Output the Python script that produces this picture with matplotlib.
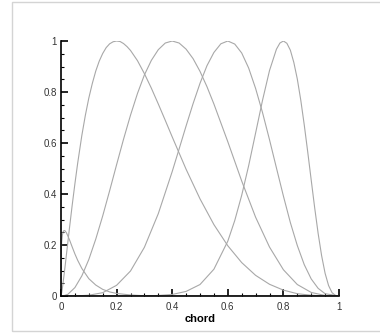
import matplotlib
matplotlib.use("Agg")
import matplotlib.pyplot as plt
from matplotlib.ticker import MultipleLocator
from matplotlib.patches import Rectangle

# curva 1: bump pequeño en el borde de ataque
x_le = [0, 0.001, 0.0025, 0.005, 0.0075, 0.01, 0.0125, 0.015, 0.02, 0.03, 0.04,
        0.05, 0.06, 0.075, 0.1, 0.125, 0.15, 0.175, 0.2, 0.25, 0.3, 0.4, 0.5, 1.0]
y_le = [0, 0.174, 0.212, 0.239, 0.251, 0.256, 0.257, 0.255, 0.247, 0.222, 0.193,
        0.165, 0.140, 0.108, 0.068, 0.043, 0.026, 0.016, 0.010, 0.004, 0.001, 0.0, 0.0, 0.0]

# curva 2: maximo en 0.2
x_02 = [0, 0.0025, 0.005, 0.01, 0.015, 0.02, 0.025, 0.03, 0.035, 0.04, 0.05, 0.06, 0.075,
        0.0875, 0.1, 0.1125, 0.125, 0.1375, 0.15, 0.1625, 0.175, 0.1875, 0.2, 0.2125,
        0.225, 0.2375, 0.25, 0.275, 0.3, 0.325, 0.35, 0.375, 0.4, 0.45, 0.5, 0.55,
        0.6, 0.65, 0.7, 0.75, 0.8, 0.85, 0.9, 0.95, 1.0]
y_02 = [0, 0.013, 0.031, 0.074, 0.119, 0.167, 0.214, 0.262, 0.308, 0.354, 0.440, 0.521, 0.630,
        0.708, 0.776, 0.833, 0.882, 0.921, 0.951, 0.974, 0.989, 0.997, 1.0, 0.998,
        0.990, 0.978, 0.963, 0.923, 0.872, 0.815, 0.753, 0.689, 0.624, 0.497, 0.381, 0.280,
        0.197, 0.131, 0.081, 0.046, 0.023, 0.009, 0.003, 0.0003, 0]

# curva 3: maximo en 0.4
x_04 = [0, 0.01, 0.025, 0.05, 0.075, 0.1, 0.125, 0.15, 0.175, 0.2, 0.225, 0.25, 0.275,
        0.3, 0.325, 0.35, 0.375, 0.4, 0.425, 0.45, 0.475, 0.5, 0.525, 0.55, 0.6, 0.65,
        0.7, 0.75, 0.8, 0.85, 0.9, 0.95, 1.0]
y_04 = [0, 0.001, 0.007, 0.033, 0.079, 0.143, 0.223, 0.314, 0.413, 0.515, 0.615, 0.709, 0.794,
        0.867, 0.924, 0.966, 0.992, 1.0, 0.992, 0.968, 0.931, 0.881, 0.821, 0.753, 0.605, 0.451,
        0.309, 0.192, 0.103, 0.045, 0.014, 0.002, 0]

# curva 4: maximo en 0.6
x_06 = [0, 0.05, 0.1, 0.15, 0.2, 0.25, 0.3, 0.35, 0.4, 0.425, 0.45, 0.475, 0.5, 0.525,
        0.55, 0.575, 0.6, 0.625, 0.65, 0.675, 0.7, 0.725, 0.75, 0.775, 0.8, 0.825,
        0.85, 0.875, 0.9, 0.925, 0.95, 1.0]
y_06 = [0, 0.0002, 0.003, 0.013, 0.042, 0.098, 0.191, 0.323, 0.488, 0.577, 0.667, 0.754, 0.834, 0.903,
        0.955, 0.989, 1.0, 0.988, 0.953, 0.894, 0.814, 0.719, 0.613, 0.502, 0.392, 0.288,
        0.198, 0.123, 0.067, 0.030, 0.009, 0]

# curva 5: maximo en 0.8
x_08 = [0, 0.3, 0.35, 0.4, 0.45, 0.5, 0.55, 0.6, 0.625, 0.65, 0.675, 0.7, 0.725, 0.75,
        0.775, 0.7875, 0.8, 0.8125, 0.825, 0.8375, 0.85, 0.8625, 0.875, 0.8875, 0.9,
        0.9125, 0.925, 0.9375, 0.95, 0.9625, 0.975, 0.9875, 1.0]
y_08 = [0, 0.0004, 0.002, 0.006, 0.018, 0.045, 0.105, 0.215, 0.296, 0.395, 0.511, 0.639, 0.768, 0.884,
        0.968, 0.992, 1.0, 0.991, 0.964, 0.916, 0.851, 0.768, 0.671, 0.565, 0.455,
        0.346, 0.245, 0.158, 0.089, 0.041, 0.013, 0.002, 0]

curvas = [(x_le, y_le), (x_02, y_02), (x_04, y_04), (x_06, y_06), (x_08, y_08)]

plt.rcParams['font.family'] = ['Liberation Sans', 'DejaVu Sans']

fig = plt.figure(figsize=(3.8, 3.33), dpi=100)
# marco gris claro alrededor
fig.patches.append(Rectangle((12/380, 2/333), 1.0, 329/333, transform=fig.transFigure,
                             fill=False, edgecolor='#d4d4d4', linewidth=1.0))

ax = fig.add_axes([61/380, 37/333, 278/380, 255/333])
for xs, ys in curvas:
    ax.plot(xs, ys, color='#a8a8a8', linewidth=0.8)

ax.set_xlim(0, 1)
ax.set_ylim(0, 1)
ax.spines['top'].set_visible(False)
ax.spines['right'].set_visible(False)
ax.spines['left'].set_linewidth(1.2)
ax.spines['bottom'].set_linewidth(1.2)
ax.xaxis.set_minor_locator(MultipleLocator(0.05))
ax.yaxis.set_minor_locator(MultipleLocator(0.05))
ax.tick_params(which='major', direction='in', length=5, width=1.2, labelsize=7,
               labelcolor='#333333', pad=3)
ax.tick_params(axis='x', which='major', pad=4)
ax.tick_params(which='minor', direction='in', length=2.5, width=0.8)
ax.set_xticks([0, 0.2, 0.4, 0.6, 0.8, 1])
ax.set_xticklabels(['0', '0.2', '0.4', '0.6', '0.8', '1'])
ax.set_yticks([0, 0.2, 0.4, 0.6, 0.8, 1])
ax.set_yticklabels(['0', '0.2', '0.4', '0.6', '0.8', '1'])
ax.set_xlabel('chord', fontsize=8, fontweight='bold', labelpad=1.5)

fig.savefig('out.png', dpi=100)
